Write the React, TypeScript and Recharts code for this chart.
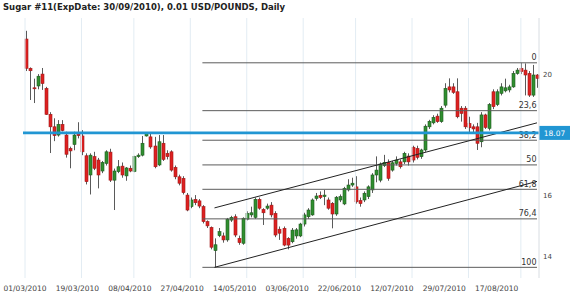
import React from 'react';
import { ComposedChart, Bar, XAxis, YAxis, ReferenceLine } from 'recharts';

// OHLC values (one candle per trading day)
const open = [
  21.15, 20.19, 19.55, 19.61, 20.0, 19.53, 18.68, 18.27, 18.0, 18.35,
  18.0, 17.56, 17.69, 18.04, 17.97, 17.32, 16.69, 17.29, 17.18, 16.82,
  17.07, 17.44, 16.52, 16.8, 16.98, 16.66, 16.91, 16.8, 17.29, 17.34,
  17.97, 17.94, 17.64, 17.02, 17.73, 17.4, 17.45, 16.94, 16.63, 16.58,
  16.03, 15.65, 15.89, 15.84, 15.65, 15.16, 14.97, 14.21, 14.7, 14.69,
  14.56, 15.21, 15.32, 14.61, 14.45, 15.24, 15.38, 15.3, 15.89, 15.56,
  15.6, 15.7, 15.43, 14.91, 14.94, 14.61, 14.5, 14.69, 14.69, 15.08,
  15.32, 15.38, 15.92, 16.02, 15.98, 15.87, 15.76, 15.41, 15.87, 15.74,
  16.2, 16.36, 16.3, 15.85, 15.87, 15.98, 16.2, 16.69, 16.52, 17.0,
  17.1, 16.85, 17.07, 17.12, 17.12, 17.31, 17.6, 17.56, 17.29, 17.51,
  18.27, 18.4, 18.62, 18.44, 18.98, 19.58, 19.58, 19.42, 18.88, 18.88,
  18.38, 18.27, 18.27, 17.78, 18.66, 18.22, 19.42, 19.0, 19.37, 19.45,
  19.48, 19.58, 20.02, 20.19, 20.13, 20.02, 19.31, 19.97,
];
const high = [
  21.42, 20.22, 19.85, 20.0, 20.2, 19.58, 18.75, 18.55, 18.49, 18.49,
  18.11, 17.62, 18.11, 18.42, 18.16, 17.4, 17.4, 17.45, 17.25, 17.15,
  17.5, 17.55, 16.9, 17.18, 17.1, 16.95, 17.0, 17.32, 17.4, 17.97,
  18.1, 18.05, 17.94, 18.0, 18.0, 17.5, 17.5, 17.0, 16.7, 16.65,
  16.1, 15.95, 16.03, 15.9, 15.7, 15.2, 15.0, 14.61, 14.95, 14.8,
  15.28, 15.35, 15.4, 14.7, 15.3, 15.5, 15.65, 15.95, 15.95, 15.6,
  15.75, 15.8, 15.5, 15.0, 15.0, 14.65, 14.95, 14.95, 15.12, 15.45,
  15.6, 15.92, 16.1, 16.15, 16.2, 15.95, 15.8, 16.0, 16.05, 16.3,
  16.55, 16.6, 16.65, 15.95, 16.15, 16.35, 16.75, 17.3, 17.1, 17.35,
  17.2, 17.15, 17.3, 17.2, 17.45, 17.4, 17.65, 17.65, 17.55, 18.35,
  18.5, 18.65, 18.7, 18.95, 19.7, 19.86, 19.7, 19.86, 18.95, 18.95,
  18.6, 18.35, 18.4, 18.75, 18.7, 19.05, 19.5, 19.5, 19.7, 19.85,
  19.65, 20.1, 20.2, 20.37, 20.35, 20.1, 20.3, 20.0,
];
const low = [
  20.1, 19.15, 19.05, 19.5, 19.48, 18.66, 17.41, 17.8, 17.95, 18.12,
  17.26, 16.91, 17.5, 17.89, 17.34, 16.38, 16.05, 16.85, 16.25, 16.75,
  17.0, 16.46, 15.54, 16.75, 16.6, 16.5, 16.78, 16.78, 17.25, 17.3,
  17.95, 17.55, 16.91, 16.98, 17.15, 17.2, 16.8, 16.55, 16.35, 16.05,
  15.5, 15.6, 15.7, 15.6, 15.1, 14.95, 14.25, 13.66, 14.65, 14.47,
  14.5, 15.15, 14.65, 14.4, 14.4, 15.2, 15.3, 15.25, 15.55, 15.05,
  15.55, 15.3, 14.65, 14.56, 14.35, 14.25, 14.45, 14.6, 14.65, 15.0,
  15.25, 15.35, 15.85, 15.9, 15.7, 15.55, 14.94, 15.35, 15.8, 15.7,
  16.15, 16.3, 15.75, 15.65, 15.8, 15.9, 16.1, 16.45, 16.45, 16.95,
  16.5, 16.8, 17.0, 16.9, 17.05, 17.0, 17.1, 17.2, 17.22, 17.45,
  18.2, 18.35, 18.4, 18.4, 18.9, 19.4, 19.35, 18.55, 18.44, 18.2,
  18.1, 18.1, 17.51, 17.6, 18.2, 18.15, 18.85, 18.95, 19.3, 19.4,
  19.4, 19.55, 19.98, 20.0, 19.3, 19.25, 19.25, 19.55,
];
const close = [
  20.19, 20.11, 19.52, 19.93, 19.69, 18.68, 18.27, 17.98, 18.35, 18.15,
  17.37, 17.48, 18.0, 17.98, 17.45, 16.47, 17.34, 16.91, 16.69, 17.1,
  17.45, 16.52, 16.82, 16.96, 16.69, 16.92, 16.82, 17.29, 17.34, 17.73,
  18.06, 17.61, 16.96, 17.78, 17.2, 17.29, 16.85, 16.63, 16.42, 16.11,
  15.54, 15.87, 15.78, 15.67, 15.16, 15.02, 14.32, 14.4, 14.83, 14.56,
  15.24, 15.3, 14.72, 14.47, 15.27, 15.43, 15.45, 15.89, 15.6, 15.45,
  15.67, 15.38, 14.72, 14.78, 14.39, 14.39, 14.88, 14.89, 15.08, 15.38,
  15.54, 15.87, 16.0, 15.95, 16.03, 15.6, 15.41, 15.96, 15.98, 16.25,
  16.36, 16.42, 15.81, 15.75, 16.09, 16.3, 16.69, 16.85, 17.05, 17.1,
  16.58, 17.09, 17.18, 16.96, 17.4, 17.12, 17.18, 17.27, 17.51, 18.29,
  18.45, 18.58, 18.44, 18.88, 19.53, 19.48, 19.4, 18.6, 18.71, 18.27,
  18.24, 18.2, 17.73, 18.66, 18.25, 19.0, 18.93, 19.42, 19.58, 19.55,
  19.58, 20.02, 20.13, 20.08, 19.97, 19.31, 19.97, 19.86,
];

// x-axis tick labels and the candle each one sits under
const tickLabels = [
  '01/03/2010', '19/03/2010', '08/04/2010', '27/04/2010', '14/05/2010',
  '03/06/2010', '22/06/2010', '12/07/2010', '29/07/2010', '17/08/2010',
];
const tickIdx = [0, 13, 26, 39, 52, 65, 78, 91, 104, 117];
const gridIdx = [0, 14, 27, 41, 55, 69, 82, 96, 110, 123];
const yTicks = [14, 16, 20];

// Fibonacci retracement levels
const fibNames = ['0', '23,6', '38,2', '50', '61,8', '76,4', '100'];
const fibValues = [20.37, 18.8, 17.83, 17.02, 16.22, 15.25, 13.66];
const fibStart = 44;
const lastIdx = 127;

// trend channel
const channelStart = 47;
const lowerLine = [13.66, 16.48];
const upperLine = [15.61, 18.4];

const priceLevel = 18.07;

const data = open.map((o, i) => ({
  i,
  o,
  h: high[i],
  l: low[i],
  c: close[i],
  range: [low[i], high[i]],
}));

const FONT = '"DejaVu Sans", Verdana, sans-serif';
const BLUE = '#2196d3';

const Candle = (props: any) => {
  const { x, y, width, height, payload } = props;
  if (!payload || height == null) return null;
  const { o, h, l, c } = payload;
  const up = c >= o;
  const ratio = h - l > 0 ? height / (h - l) : 0;
  const top = y + (h - Math.max(o, c)) * ratio;
  const bot = y + (h - Math.min(o, c)) * ratio;
  const cx = Math.round(x + width / 2);
  const bodyH = Math.max(1, bot - top);
  return (
    <g>
      <line x1={cx + 0.5} x2={cx + 0.5} y1={y} y2={y + height} stroke="#5a5a5a" strokeWidth={1} />
      <rect
        x={cx - 1}
        y={top}
        width={3}
        height={bodyH}
        fill={up ? '#2f8f2f' : '#de2020'}
        stroke={up ? '#1e5a1e' : '#a01818'}
        strokeWidth={0.6}
      />
    </g>
  );
};

const FibLabel = (props: any) => {
  const { viewBox, text } = props;
  if (!viewBox) return null;
  return (
    <text
      x={viewBox.x + viewBox.width - 0.5}
      y={viewBox.y - 2.5}
      textAnchor="end"
      fontSize={8}
      fontFamily={FONT}
      fill="#333"
    >
      {text}
    </text>
  );
};

const PriceTag = (props: any) => {
  const { viewBox } = props;
  if (!viewBox) return null;
  const x = viewBox.x + viewBox.width;
  const y = viewBox.y;
  return (
    <g>
      <rect x={x} y={y - 7} width={31} height={14} fill={BLUE} />
      <text x={x + 15.5} y={y + 2.8} textAnchor="middle" fill="#fff" fontSize={7.5} fontFamily={FONT}>
        {priceLevel.toFixed(2)}
      </text>
    </g>
  );
};

export default function App() {
  return (
    <div style={{ position: 'absolute', left: 0, top: 0, width: 570, height: 299, background: '#fff' }}>
      <ComposedChart
        width={570}
        height={299}
        data={data}
        margin={{ top: 18, right: 0, bottom: 0, left: 23 }}
      >
        <XAxis
          dataKey="i"
          ticks={tickIdx}
          interval={0}
          tickFormatter={(v: any) => tickLabels[tickIdx.indexOf(Number(v))] ?? ''}
          tickLine={false}
          axisLine={false}
          height={21}
          tick={{ fontSize: 7.5, fontFamily: FONT, fill: '#444' }}
        />
        <YAxis
          orientation="right"
          domain={[13.31, 21.84]}
          allowDataOverflow
          ticks={yTicks}
          tickLine={false}
          tickSize={2}
          tickMargin={2}
          axisLine={{ stroke: '#d8dde2' }}
          width={31}
          tick={{ fontSize: 7, fontFamily: FONT, fill: '#444', textAnchor: 'start' }}
        />
        {gridIdx.map((g) => (
          <ReferenceLine key={'g' + g} x={g} stroke="#e2ecf3" strokeWidth={1} />
        ))}
        {fibValues.map((v, k) => (
          <ReferenceLine
            key={'f' + k}
            segment={[
              { x: fibStart, y: v },
              { x: lastIdx, y: v },
            ]}
            stroke="#5c5c5c"
            strokeWidth={1}
            label={<FibLabel text={fibNames[k]} />}
          />
        ))}
        <ReferenceLine
          segment={[
            { x: channelStart, y: lowerLine[0] },
            { x: lastIdx, y: lowerLine[1] },
          ]}
          stroke="#222"
          strokeWidth={1}
        />
        <ReferenceLine
          segment={[
            { x: channelStart, y: upperLine[0] },
            { x: lastIdx, y: upperLine[1] },
          ]}
          stroke="#222"
          strokeWidth={1}
        />
        <Bar dataKey="range" shape={<Candle />} isAnimationActive={false} barSize={3} />
        <ReferenceLine y={priceLevel} stroke={BLUE} strokeWidth={2.6} label={<PriceTag />} />
      </ComposedChart>
      <div
        style={{
          position: 'absolute',
          left: 3,
          top: 2,
          fontFamily: FONT,
          fontWeight: 'bold',
          fontSize: 8.5,
          color: '#222',
          whiteSpace: 'nowrap',
          lineHeight: '11px',
        }}
      >
        Sugar #11(ExpDate: 30/09/2010), 0.01 USD/POUNDS, Daily
      </div>
    </div>
  );
}
